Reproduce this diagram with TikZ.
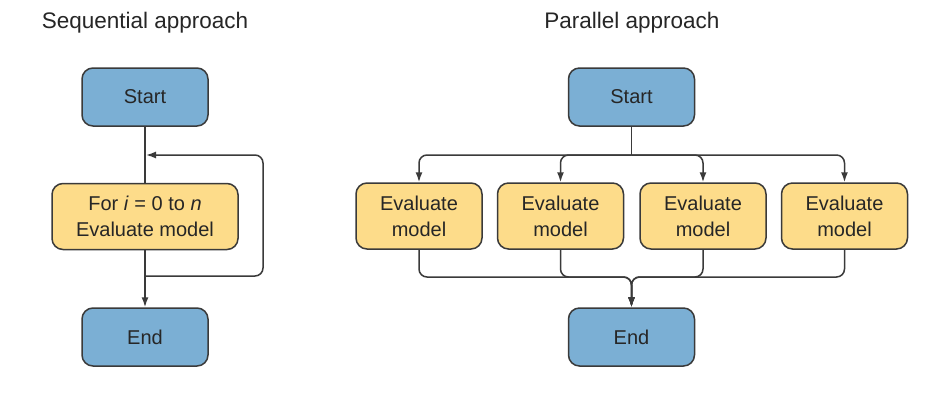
\documentclass[tikz,border=0pt]{standalone}
\usepackage{fontspec}
\setmainfont{Liberation Sans}
\usetikzlibrary{arrows.meta,calc}
\definecolor{boxblue}{HTML}{7BAFD4}
\definecolor{boxyellow}{HTML}{FDDC8A}
\definecolor{linegray}{HTML}{3A3A3A}
\begin{document}
\begin{tikzpicture}[x=1pt,y=-1pt,
  base/.style={draw=linegray,line width=1.5pt,rounded corners=11pt,align=center,
    font=\fontsize{20}{26}\selectfont,text=black!85,inner sep=0pt},
  bluebox/.style={base,fill=boxblue,minimum width=126pt,minimum height=58pt},
  yelbox/.style={base,fill=boxyellow,minimum height=66pt},
  conn/.style={draw=linegray,line width=1.5pt},
  arr/.style={conn,-{Latex[length=10pt,width=7pt]}},
  title/.style={font=\fontsize{22.5}{26}\selectfont,text=black!85}]
\useasboundingbox[fill=white] (0,0) rectangle (927,400);

\node[title] (t1) at (145,23) {Sequential approach};
\node[title] (t2) at (632,23) {Parallel approach};

% sequential
\node[bluebox] (s1) at (145,97) {Start};
\node[yelbox,minimum width=186pt] (f) at (145,216.5) {For \textit{i} = 0 to \textit{n}\\Evaluate model};
\node[bluebox] (e1) at (145,337) {End};
\coordinate (lb) at (145,276);
\coordinate (lt) at (146,155);
\coordinate (lr) at (263,200);
\draw[conn] (s1) -- (f);
\draw[arr] (f) -- (e1);
\draw[arr,rounded corners=8pt] (lb) -| (lr |- lt) -- (lt);

% parallel
\node[bluebox] (s2) at (631.5,97) {Start};
\node[bluebox] (e2) at (631.5,337) {End};
\foreach \n/\x in {v1/419,v2/560.5,v3/703,v4/844.5}{
  \node[yelbox,minimum width=126pt] (\n) at (\x,216) {Evaluate\\model};
}
\coordinate (tb) at (0,155);
\coordinate (bb) at (0,277);
\draw[conn] (s2.south) -- (s2 |- tb);
\foreach \n in {v1,v2,v3,v4}{
  \draw[arr,rounded corners=8pt] (s2 |- tb) -- (\n |- tb) -- (\n.north);
  \draw[arr,rounded corners=8pt] (\n.south) -- (\n |- bb) -- (e2 |- bb) -- (e2.north);
}
\end{tikzpicture}
\end{document}
